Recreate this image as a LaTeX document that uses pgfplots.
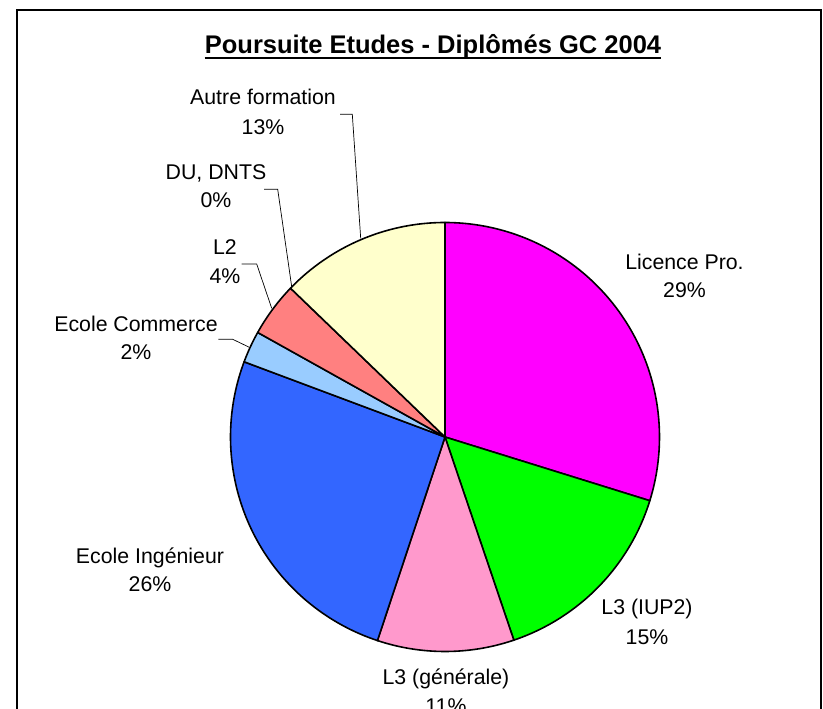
\documentclass[border=0pt]{standalone}
\usepackage{pgfplots}
\pgfplotsset{compat=1.18}
\usepackage{fontspec}
\setmainfont{Liberation Sans}
\definecolor{cLP}{HTML}{FF00FF}
\definecolor{cIUP}{HTML}{00FF00}
\definecolor{cLG}{HTML}{FF99CC}
\definecolor{cEI}{HTML}{3366FF}
\definecolor{cEC}{HTML}{99CCFF}
\definecolor{cLD}{HTML}{FF8080}
\definecolor{cAF}{HTML}{FFFFCC}
% share of the pie (percent), clockwise from 12 o'clock
\def\vLP{29.8}  % Licence Pro.
\def\vIUP{15.0} % L3 (IUP2)
\def\vLG{10.3}  % L3 (generale)
\def\vEI{25.6}  % Ecole Ingenieur
\def\vEC{2.4}   % Ecole Commerce
\def\vLD{4.1}   % L2
\def\vDU{0.0}   % DU, DNTS
\def\vAF{12.8}  % Autre formation
\pgfmathsetmacro\cA{0}
\pgfmathsetmacro\cB{\cA+\vLP}
\pgfmathsetmacro\cC{\cB+\vIUP}
\pgfmathsetmacro\cD{\cC+\vLG}
\pgfmathsetmacro\cE{\cD+\vEI}
\pgfmathsetmacro\cF{\cE+\vEC}
\pgfmathsetmacro\cG{\cF+\vLD}
\pgfmathsetmacro\cH{\cG+\vDU}
\pgfmathsetmacro\cI{\cH+\vAF}
\newcommand\pieslice[3]{%
  \addplot[draw=black, line width=1.6pt, line join=round, fill=#3,
    domain={90-3.6*#2}:{90-3.6*#1}, samples=90, variable=\t]
    ({445+214.5*cos(\t)},{272+214.5*sin(\t)}) -- (axis cs:445,272) -- cycle;}
\newcommand\lbl{\fontsize{21.3}{25}\selectfont}
\begin{document}
\begin{tikzpicture}
\begin{axis}[name=ax, width=823pt, height=709pt, scale only axis,
  xmin=0, xmax=823, ymin=0, ymax=709, hide axis, clip=true]
\pieslice{\cA}{\cB}{cLP}
\pieslice{\cB}{\cC}{cIUP}
\pieslice{\cC}{\cD}{cLG}
\pieslice{\cD}{\cE}{cEI}
\pieslice{\cE}{\cF}{cEC}
\pieslice{\cF}{\cG}{cLD}
\pieslice{\cH}{\cI}{cAF}
% frame
\draw[line width=1.3pt] (axis cs:17,0) -- (axis cs:17,699) -- (axis cs:821,699) -- (axis cs:821,0);
% title
\node[anchor=base, inner sep=0pt, font=\fontsize{25.5}{30}\selectfont\bfseries] (T) at (axis cs:433,655.5) {Poursuite Etudes - Diplômés GC 2004};
\draw[line width=2pt] ([yshift=-4.5pt]T.base west) -- ([yshift=-4.5pt]T.base east);
% leader lines
\draw[line width=0.7pt] (axis cs:340,594.7) -- (axis cs:352.3,594.7) -- (axis cs:360.7,470.7);
\draw[line width=0.7pt] (axis cs:264,519.7) -- (axis cs:277.7,519.7) -- (axis cs:291.7,422.3);
\draw[line width=0.7pt] (axis cs:241.7,445) -- (axis cs:256.7,445) -- (axis cs:271.7,400.7);
\draw[line width=0.7pt] (axis cs:218.3,369.7) -- (axis cs:232.7,369.7) -- (axis cs:249.3,361.7);
% labels
\node[anchor=base, font=\lbl] at (axis cs:684.5,439) {Licence Pro.};
\node[anchor=base, font=\lbl] at (axis cs:684.5,411) {29\%};
\node[anchor=base, font=\lbl] at (axis cs:647,94) {L3 (IUP2)};
\node[anchor=base, font=\lbl] at (axis cs:647,64) {15\%};
\node[anchor=base, font=\lbl] at (axis cs:446,24) {L3 (générale)};
\node[anchor=base, font=\lbl] at (axis cs:446,-5) {11\%};
\node[anchor=base, font=\lbl] at (axis cs:150,145) {Ecole Ingénieur};
\node[anchor=base, font=\lbl] at (axis cs:150,117) {26\%};
\node[anchor=base, font=\lbl] at (axis cs:136,377) {Ecole Commerce};
\node[anchor=base, font=\lbl] at (axis cs:136,349) {2\%};
\node[anchor=base, font=\lbl] at (axis cs:225,454) {L2};
\node[anchor=base, font=\lbl] at (axis cs:225,425) {4\%};
\node[anchor=base, font=\lbl] at (axis cs:216,529) {DU, DNTS};
\node[anchor=base, font=\lbl] at (axis cs:216,501) {0\%};
\node[anchor=base, font=\lbl] at (axis cs:263,604) {Autre formation};
\node[anchor=base, font=\lbl] at (axis cs:263,574) {13\%};
\end{axis}
\pgfresetboundingbox
\path[use as bounding box] (ax.south west) rectangle (ax.north east);
\end{tikzpicture}
\end{document}
